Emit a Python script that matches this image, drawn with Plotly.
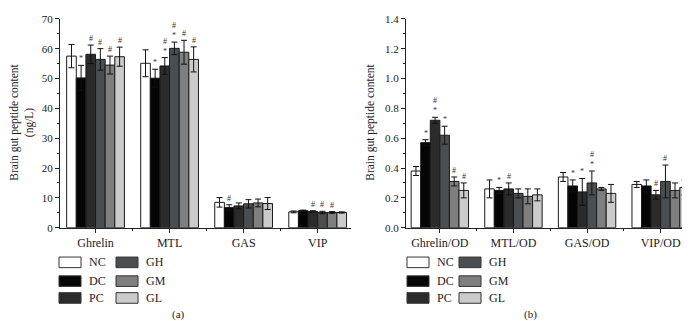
import plotly.graph_objects as go

groups = ["NC", "DC", "PC", "GH", "GM", "GL"]
colors = ["#ffffff", "#050505", "#2b2b2b", "#4b4e51", "#7f7f7f", "#cbcbcb"]

cats_a = ["Ghrelin", "MTL", "GAS", "VIP"]
cats_b = ["Ghrelin/OD", "MTL/OD", "GAS/OD", "VIP/OD"]

mean_a = {
    "NC": [57.5, 55.1, 8.5, 5.3],
    "DC": [50.2, 50.1, 6.8, 5.7],
    "PC": [58.1, 54.2, 7.3, 5.4],
    "GH": [56.4, 60.1, 8.0, 5.1],
    "GM": [54.5, 58.8, 8.3, 5.1],
    "GL": [57.3, 56.4, 8.1, 5.1],
}
err_a = {
    "NC": [3.9, 4.5, 1.6, 0.3],
    "DC": [4.2, 3.0, 0.9, 0.2],
    "PC": [3.1, 2.8, 1.0, 0.3],
    "GH": [3.6, 2.1, 1.4, 0.4],
    "GM": [3.0, 4.0, 1.3, 0.3],
    "GL": [3.2, 4.2, 2.0, 0.2],
}
mean_b = {
    "NC": [0.38, 0.26, 0.34, 0.29],
    "DC": [0.57, 0.25, 0.28, 0.28],
    "PC": [0.72, 0.26, 0.24, 0.22],
    "GH": [0.62, 0.23, 0.30, 0.31],
    "GM": [0.31, 0.21, 0.26, 0.25],
    "GL": [0.25, 0.22, 0.23, 0.27],
}
err_b = {
    "NC": [0.03, 0.06, 0.03, 0.02],
    "DC": [0.02, 0.02, 0.04, 0.04],
    "PC": [0.02, 0.04, 0.09, 0.03],
    "GH": [0.06, 0.03, 0.08, 0.11],
    "GM": [0.03, 0.05, 0.01, 0.05],
    "GL": [0.05, 0.04, 0.06, 0.05],
}
# significance marks per category, per group
sig_a = [
    ["", "*", "#", "#", "#", "#"],
    ["", "*", "#<br>*", "#<br>*", "#", "#"],
    ["", "#", "", "", "", ""],
    ["", "", "#", "#", "#", ""],
]
sig_b = [
    ["", "*", "#<br>*", "*", "#", "#"],
    ["", "*", "#", "", "", ""],
    ["", "*", "*", "#<br>*", "", ""],
    ["", "", "#", "#", "", ""],
]

FONT = "Liberation Serif"
BARGAP = 0.22
W, H = 690, 321
INK = "#222222"

fig = go.Figure()
xpos = list(range(4))
for means, errs, xa, ya in [(mean_a, err_a, "x", "y"), (mean_b, err_b, "x2", "y2")]:
    for g, c in zip(groups, colors):
        fig.add_trace(go.Bar(
            x=xpos, y=means[g], name=g, marker=dict(color=c, line=dict(color="#1a1a1a", width=1)),
            error_y=dict(type="data", array=errs[g], color="#111111", thickness=1, width=3),
            xaxis=xa, yaxis=ya, showlegend=False, offsetgroup=g,
        ))

annotations = []
gw = (1 - BARGAP) / len(groups)
for sig, means, errs, xr, yr in [(sig_a, mean_a, err_a, "x", "y"), (sig_b, mean_b, err_b, "x2", "y2")]:
    for ci in range(4):
        for gi, g in enumerate(groups):
            t = sig[ci][gi]
            if not t:
                continue
            xc = ci - (1 - BARGAP) / 2 + gw * (gi + 0.5)
            annotations.append(dict(
                x=xc, y=means[g][ci] + errs[g][ci], xref=xr, yref=yr, text=t, showarrow=False,
                yanchor="bottom", xanchor="center",
                font=dict(family=FONT, size=8, color="#333333"),
            ))

shapes = []
legend_cols = [[0, 1, 2], [3, 4, 5]]
row_y = [258, 277.5, 295]
for base_x, col_dx in [(51, 57), (399, 52)]:
    for col, idxs in enumerate(legend_cols):
        for r, gi in enumerate(idxs):
            x0 = base_x + col * col_dx
            yc = row_y[r]
            shapes.append(dict(type="rect", xref="paper", yref="paper",
                               x0=x0 / W, x1=(x0 + 22) / W,
                               y0=1 - (yc + 5.5) / H, y1=1 - (yc - 5.5) / H,
                               fillcolor=colors[gi], line=dict(color="#333333", width=1)))
            annotations.append(dict(x=(x0 + 28) / W, y=1 - yc / H, xref="paper", yref="paper",
                                    text=groups[gi], showarrow=False, xanchor="left", yanchor="middle",
                                    font=dict(family=FONT, size=12, color=INK)))

for txt, xc in [("(a)", 170), ("(b)", 522)]:
    annotations.append(dict(x=xc / W, y=1 - 312 / H, xref="paper", yref="paper", text=txt,
                            showarrow=False, xanchor="center", yanchor="middle",
                            font=dict(family=FONT, size=11, color=INK)))

# y axis titles
for txt, xc in [("Brain gut peptide content<br>(ng/L)", 14), ("Brain gut peptide content", 363)]:
    annotations.append(dict(x=xc / W, y=1 - 113 / H, xref="paper", yref="paper", text=txt,
                            showarrow=False, xanchor="center", yanchor="middle", textangle=-90,
                            font=dict(family=FONT, size=11.5, color=INK)))

ydom = [(H - 222) / H, (H - 5) / H]
axis_common = dict(showline=True, linecolor=INK, linewidth=1, ticks="outside", ticklen=4,
                   tickcolor=INK, showgrid=False, zeroline=False, ticklabeloverflow="allow")
yfont = dict(family=FONT, size=11, color=INK)
xfont = dict(family=FONT, size=12, color=INK)

fig.update_layout(
    width=W, height=H, margin=dict(l=0, r=0, t=0, b=0),
    paper_bgcolor="white", plot_bgcolor="white",
    barmode="group", bargap=BARGAP, bargroupgap=0,
    showlegend=False,
    xaxis=dict(domain=[52 / W, 343 / W], range=[-0.48, 3.45], tickvals=xpos, ticktext=cats_a,
               minor=dict(tickvals=[0.5, 1.5, 2.5], ticklen=2, ticks="outside", tickcolor=INK),
               anchor="y", tickfont=xfont, **axis_common),
    yaxis=dict(domain=ydom, range=[0, 70], dtick=10, anchor="x",
               minor=dict(dtick=5, ticklen=2, ticks="outside", tickcolor=INK),
               tickfont=yfont, **axis_common),
    xaxis2=dict(domain=[398 / W, 688 / W], range=[-0.46, 3.48], tickvals=xpos, ticktext=cats_b,
                minor=dict(tickvals=[0.5, 1.5, 2.5], ticklen=2, ticks="outside", tickcolor=INK),
                anchor="y2", tickfont=xfont, **axis_common),
    yaxis2=dict(domain=ydom, range=[0, 1.4], dtick=0.2, tickformat=".1f", anchor="x2",
                minor=dict(dtick=0.1, ticklen=2, ticks="outside", tickcolor=INK),
                tickfont=yfont, **axis_common),
    annotations=annotations, shapes=shapes,
)

fig.write_html("out.html")
